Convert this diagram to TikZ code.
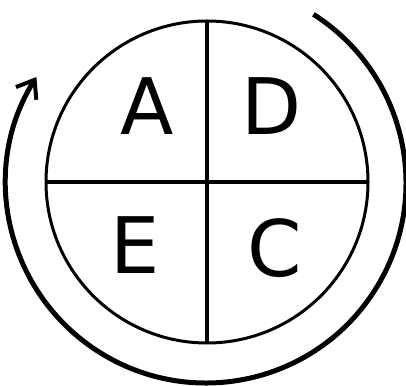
\documentclass[tikz,border=0pt]{standalone}
\usepackage{fontspec}
\setmainfont{DejaVu Sans}
\usetikzlibrary{arrows.meta}

\begin{document}
\begin{tikzpicture}[x=1pt, y=1pt,
  letter/.style={font=\fontsize{78}{78}\selectfont, inner sep=0pt},
  wheel/.style={circle, draw, line width=3pt, minimum size=322pt, inner sep=0pt, outer sep=0pt}]
  \useasboundingbox (0,0) rectangle (406,385);
  \def\cx{207}\def\cy{203}
  % the circle and its cross
  \node[wheel] (disc) at (\cx, \cy) {};
  \draw[line width=3.2pt] (disc.north) -- (disc.south);
  \draw[line width=3.2pt] (disc.west) -- (disc.east);
  % letters, one per quarter
  \node[letter] (a) at (147, 279) {A};
  \node[letter] (d) at (272, 279) {D};
  \node[letter] (e) at (135, 140) {E};
  \node[letter] (c) at (275, 137) {C};
  % outer arc, clockwise
  \draw[line width=5pt, -{Straight Barb[length=16pt, width=24pt, line width=4pt]}]
    ([shift={(57.5:200)}]206, 202) arc[start angle=57.5, end angle=-212, radius=200];
\end{tikzpicture}
\end{document}
